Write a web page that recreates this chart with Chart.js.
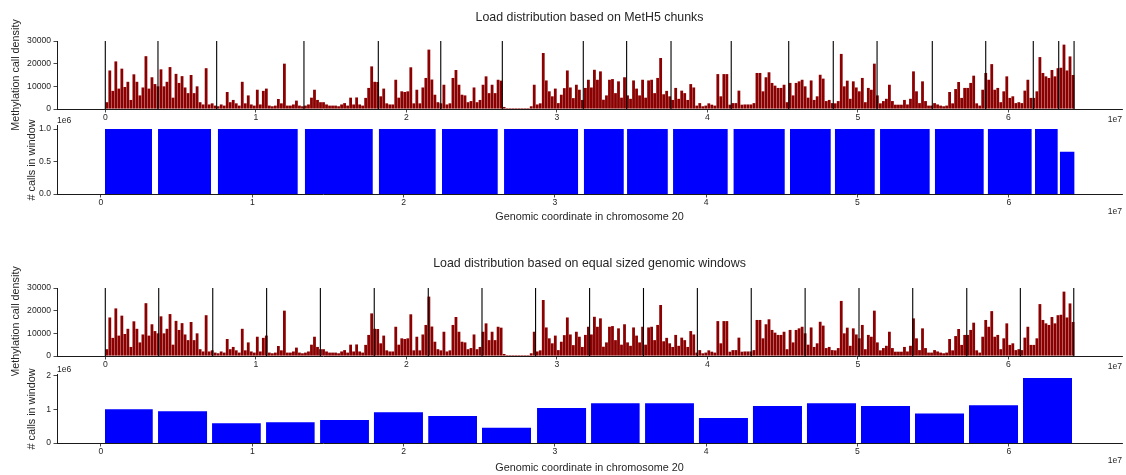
<!DOCTYPE html>
<html lang="en">
<head>
<meta charset="utf-8">
<title>Load distribution on chromosome 20</title>
<script src="https://cdn.jsdelivr.net/npm/chart.js@4.4.1/dist/chart.umd.min.js"></script>
<style>
  html, body { margin: 0; padding: 0; background: #ffffff; }
  #figure { position: relative; width: 1126px; height: 475px; overflow: hidden; }
  #figure canvas { position: absolute; left: 0; }
</style>
</head>
<body>
<div id="figure">
  <canvas id="chunkDensity" width="1126" height="130" style="top:0px"></canvas>
  <canvas id="chunkCalls" width="1126" height="122" style="top:110px"></canvas>
  <canvas id="windowDensity" width="1126" height="140" style="top:236px"></canvas>
  <canvas id="windowCalls" width="1126" height="113" style="top:362px"></canvas>
</div>
<script>
// ---------------- data ----------------
const genomeTicks = [0, 1e7, 2e7, 3e7, 4e7, 5e7, 6e7];
const densityTicks = [0, 10000, 20000, 30000];
const chunkCallTicks = [0, 500000, 1000000];
const windowCallTicks = [0, 1000000, 2000000];

// methylation calls per 200 kb bin along chromosome 20
const densityBinSize = 200000;
const callDensity = [
  3000, 17000, 8000, 21000, 9000, 17800, 9700, 12000, 4000, 15300,
  12000, 6000, 9500, 23300, 9000, 14000, 11000, 10000, 17500, 10000,
  12000, 18500, 5000, 15500, 11500, 14500, 9500, 7000, 15000, 7000,
  10000, 3000, 2000, 18000, 2000, 2500, 1500, 1200, 2000, 1500,
  7500, 3000, 4000, 2500, 1500, 12000, 2500, 6000, 2000, 1500,
  8500, 2000, 8000, 9000,
  1500, 1200, 1500, 4400, 2500, 20000, 1500, 1500, 2000, 3700,
  1500, 1200, 1500, 2000, 5000, 8500, 4000, 3000, 3000, 2000,
  1500, 1500, 1500, 1200, 2000, 2600, 1500, 5000, 2000, 5100,
  2000, 1500, 4900, 9300, 18800, 12000, 11900, 5600, 9000, 2500,
  2000, 2000, 12900, 5000, 7800, 7500, 7800, 18400, 2500, 8500,
  2500, 9500, 13700, 26200,
  13000, 6300, 3000, 2500, 10700, 2000, 2500, 13700, 17200, 10700,
  6300, 6000, 3000, 3500, 9500, 3000, 4000, 10700, 14400, 7000,
  10700, 7000, 12900, 12500, 900, 400, 400, 400, 400, 400,
  400, 400, 400, 1200, 10700, 2000, 2500, 24700, 12600, 7800,
  5600, 9000, 2600, 6300, 9200, 17000, 9500, 4800, 10700, 8500,
  4000, 9300, 12900, 9500, 17300,
  12900, 16600, 4100, 6000, 12900, 13200, 7000, 12200, 5000, 14000,
  6000, 4500, 12600, 9000, 6000, 12900, 5000, 12600, 12900, 7000,
  13700, 22500, 6500, 8000, 5600, 4000, 9300, 4500, 8100, 7000,
  4000, 11000, 9500, 1500, 2600, 1200, 1500, 2500, 1900, 1500,
  15400, 5600, 15400, 15400, 1900, 2600, 2600, 8100, 1900, 2000,
  2000, 2000, 2600, 15900, 15900,
  7800, 14000, 16200, 11500, 10300, 9300, 9300, 10700, 3000, 11500,
  6000, 11500, 12200, 12900, 10000, 5000, 12600, 4000, 5600, 15100,
  13400, 3500, 4000, 2600, 2500, 3500, 24300, 10000, 12500, 4500,
  12200, 9500, 7800, 13700, 3000, 9300, 8500, 20000, 6000, 2500,
  3500, 4500, 10700, 3500, 1900, 1900, 1900, 4000, 2000, 4500,
  16600, 7800, 2600, 12200, 3500,
  1500, 1500, 2600, 2000, 1500, 1200, 1500, 7500, 2500, 8800,
  11900, 4900, 9300, 9300, 11500, 14700, 2500, 1500, 8500, 15900,
  12900, 19800, 8500, 9300, 3000, 7800, 14400, 4900, 5600, 2600,
  3000, 2600, 8100, 12900, 4900, 4900, 7800, 22900, 15900, 14400,
  13700, 17200, 14400, 18000, 18200, 28400, 17000, 23200, 15000
];

// MetH5 chunk borders and calls per chunk
const chunkBoundaries = [0, 3.50e6, 7.40e6, 13.20e6, 18.14e6, 22.29e6, 26.38e6, 31.76e6, 34.64e6,
  37.59e6, 41.59e6, 45.41e6, 48.37e6, 51.28e6, 54.95e6, 58.50e6, 61.66e6, 63.35e6, 64.37e6];
const chunkBarLeft = [0.26e6, 3.77e6, 7.73e6, 13.48e6, 18.37e6, 22.54e6, 26.64e6, 31.92e6, 34.77e6,
  37.81e6, 41.81e6, 45.54e6, 48.51e6, 51.49e6, 55.12e6, 58.62e6, 61.73e6, 63.38e6];
const chunkBarRight = [3.37e6, 7.27e6, 13.00e6, 17.96e6, 22.12e6, 26.22e6, 31.53e6, 34.55e6, 37.46e6,
  41.42e6, 45.19e6, 48.23e6, 51.14e6, 54.77e6, 58.34e6, 61.51e6, 63.23e6, 64.35e6];
const chunkCalls = [1.0e6, 1.0e6, 1.0e6, 1.0e6, 1.0e6, 1.0e6, 1.0e6, 1.0e6, 1.0e6,
  1.0e6, 1.0e6, 1.0e6, 1.0e6, 1.0e6, 1.0e6, 1.0e6, 1.0e6, 0.65e6];

// equal sized genomic windows and calls per window
const windowBoundaries = [0, 3.55e6, 7.14e6, 10.72e6, 14.29e6, 17.87e6, 21.46e6, 25.03e6, 28.59e6,
  32.18e6, 35.76e6, 39.34e6, 42.92e6, 46.50e6, 50.08e6, 53.65e6, 57.24e6, 60.80e6, 64.35e6];
const windowBarLeft = [0.26e6, 3.77e6, 7.34e6, 10.91e6, 14.48e6, 18.04e6, 21.63e6, 25.18e6, 28.82e6,
  32.39e6, 35.96e6, 39.52e6, 43.09e6, 46.66e6, 50.23e6, 53.80e6, 57.37e6, 60.94e6];
const windowBarRight = [3.42e6, 7.01e6, 10.56e6, 14.12e6, 17.71e6, 21.28e6, 24.85e6, 28.42e6, 32.06e6,
  35.60e6, 39.19e6, 42.76e6, 46.33e6, 49.90e6, 53.47e6, 57.04e6, 60.61e6, 64.18e6];
const windowCalls = [1.00e6, 0.94e6, 0.59e6, 0.62e6, 0.68e6, 0.91e6, 0.80e6, 0.45e6, 1.04e6,
  1.18e6, 1.18e6, 0.74e6, 1.10e6, 1.18e6, 1.10e6, 0.88e6, 1.12e6, 1.93e6];

// ---------------- styling ----------------
const FONT_FAMILY = "'Liberation Sans', Arial, Helvetica, sans-serif";
const INK = '#262626';
const SPINE = '#1a1a1a';
const SIZE_TITLE = 12.4, SIZE_LABEL = 10.8, SIZE_TICK = 8.6, LINE_H = 1.2;
const DENSITY_RED = '#8b0000';
const CALLS_BLUE = '#0000ff';

Chart.defaults.font.family = FONT_FAMILY;
Chart.defaults.font.lineHeight = LINE_H;
Chart.defaults.color = INK;

const useTicks = values => scale => { scale.ticks = values.map(value => ({ value })); };

// scientific offset labels ("1e7" under the x axis, "1e6" above the y axis)
const offsetLabels = {
  id: 'offsetLabels',
  afterDraw(chart, _args, opts) {
    const { ctx, chartArea } = chart;
    ctx.save();
    ctx.font = SIZE_TICK + 'px ' + FONT_FAMILY;
    ctx.fillStyle = INK;
    ctx.textBaseline = 'middle';
    if (opts.xText) {
      ctx.textAlign = 'right';
      ctx.fillText(opts.xText, chartArea.right, chartArea.bottom + opts.xGap);
    }
    if (opts.yText) {
      ctx.textAlign = 'left';
      ctx.fillText(opts.yText, chartArea.left, chartArea.top - opts.yGap);
    }
    ctx.restore();
  }
};

function axisLines() {
  return {
    grid: { display: true, drawOnChartArea: false, drawTicks: true, tickLength: 3.5, color: SPINE, lineWidth: 0.8, offset: false },
    border: { display: true, color: SPINE, width: 1 }
  };
}

function genomeAxis(min, max, height, titleText, titleBottom) {
  return Object.assign({
    type: 'linear', min, max, offset: false,
    afterBuildTicks: useTicks(genomeTicks),
    afterFit: s => { s.height = height; },
    ticks: { font: { size: SIZE_TICK }, padding: 0, maxRotation: 0, autoSkip: false, callback: v => String(v / 1e7) },
    title: titleText
      ? { display: true, text: titleText, color: INK, font: { size: SIZE_LABEL }, padding: { top: 0, bottom: titleBottom } }
      : { display: false }
  }, axisLines());
}

function valueAxis(max, ticks, fmt, titleText, titleLeft) {
  return Object.assign({
    type: 'linear', min: 0, max,
    afterBuildTicks: useTicks(ticks),
    afterFit: s => { s.width = 57; },
    ticks: { font: { size: SIZE_TICK }, padding: 2.5, autoSkip: false, callback: fmt },
    title: { display: true, text: titleText, color: INK, font: { size: SIZE_LABEL }, padding: { top: titleLeft, bottom: 0 } }
  }, axisLines());
}

function boundaryLines(bounds, top) {
  const pts = [];
  bounds.forEach(b => { pts.push({ x: b, y: 0 }, { x: b, y: top }, { x: b, y: null }); });
  return pts;
}

function barOutline(lefts, rights, heights) {
  const pts = [];
  lefts.forEach((l, i) => {
    pts.push({ x: l, y: 0 }, { x: l, y: heights[i] }, { x: rights[i], y: heights[i] }, { x: rights[i], y: 0 });
  });
  return pts;
}

const baseOptions = (padTop) => ({
  responsive: false, animation: false, events: [],
  layout: { padding: { left: 0, right: 4, top: padTop, bottom: 0 } }
});

function densityChart(id, titleText, bounds, titlePad, axisHeight) {
  const densityMax = densityTicks[densityTicks.length - 1];
  return new Chart(document.getElementById(id), {
    type: 'bar',
    data: {
      datasets: [
        {
          type: 'line', order: 0,
          data: boundaryLines(bounds, densityMax),
          borderColor: '#000000', borderWidth: 1.1, pointRadius: 0, spanGaps: false, fill: false
        },
        {
          type: 'bar', order: 1,
          data: callDensity.map((v, i) => ({ x: (i + 0.5) * densityBinSize, y: v })),
          backgroundColor: DENSITY_RED, borderWidth: 0, barPercentage: 0.93, categoryPercentage: 1
        }
      ]
    },
    options: Object.assign(baseOptions(0), {
      plugins: {
        legend: { display: false }, tooltip: { enabled: false },
        title: { display: true, text: titleText, fullSize: false, color: INK,
                 font: { size: SIZE_TITLE, weight: 'normal' }, padding: titlePad },
        offsetLabels: { xText: '1e7', xGap: 11 }
      },
      scales: {
        x: genomeAxis(-3.209e6, 67.555e6, axisHeight),
        y: valueAxis(densityMax, densityTicks, v => String(v), 'Methylation call density', 9.2)
      }
    }),
    plugins: [offsetLabels]
  });
}

function callsChart(id, lefts, rights, calls, ticks, yMax, fmt, padTop, axisHeight, titleBottom) {
  return new Chart(document.getElementById(id), {
    type: 'line',
    data: {
      datasets: [{
        data: barOutline(lefts, rights, calls),
        borderColor: 'rgba(0,0,0,0)', borderWidth: 0, pointRadius: 0, tension: 0,
        fill: 'origin', backgroundColor: CALLS_BLUE
      }]
    },
    options: Object.assign(baseOptions(padTop), {
      plugins: {
        legend: { display: false }, tooltip: { enabled: false },
        offsetLabels: { xText: '1e7', xGap: 18, yText: '1e6', yGap: 5 }
      },
      scales: {
        x: genomeAxis(-2.908e6, 67.482e6, axisHeight, 'Genomic coordinate in chromosome 20', titleBottom),
        y: valueAxis(yMax, ticks, fmt, '# calls in window', 25.5)
      }
    }),
    plugins: [offsetLabels]
  });
}

densityChart('chunkDensity', 'Load distribution based on MetH5 chunks', chunkBoundaries,
  { top: 10.56, bottom: 15.56 }, 21);
callsChart('chunkCalls', chunkBarLeft, chunkBarRight, chunkCalls, chunkCallTicks, 1.05e6,
  v => (v / 1e6).toFixed(1), 15.75, 38, 8.5);
densityChart('windowDensity', 'Load distribution based on equal sized genomic windows', windowBoundaries,
  { top: 20.56, bottom: 16.56 }, 20);
callsChart('windowCalls', windowBarLeft, windowBarRight, windowCalls, windowCallTicks, 2.0265e6,
  v => String(v / 1e6), 12.8, 32, 0.5);
</script>
</body>
</html>
